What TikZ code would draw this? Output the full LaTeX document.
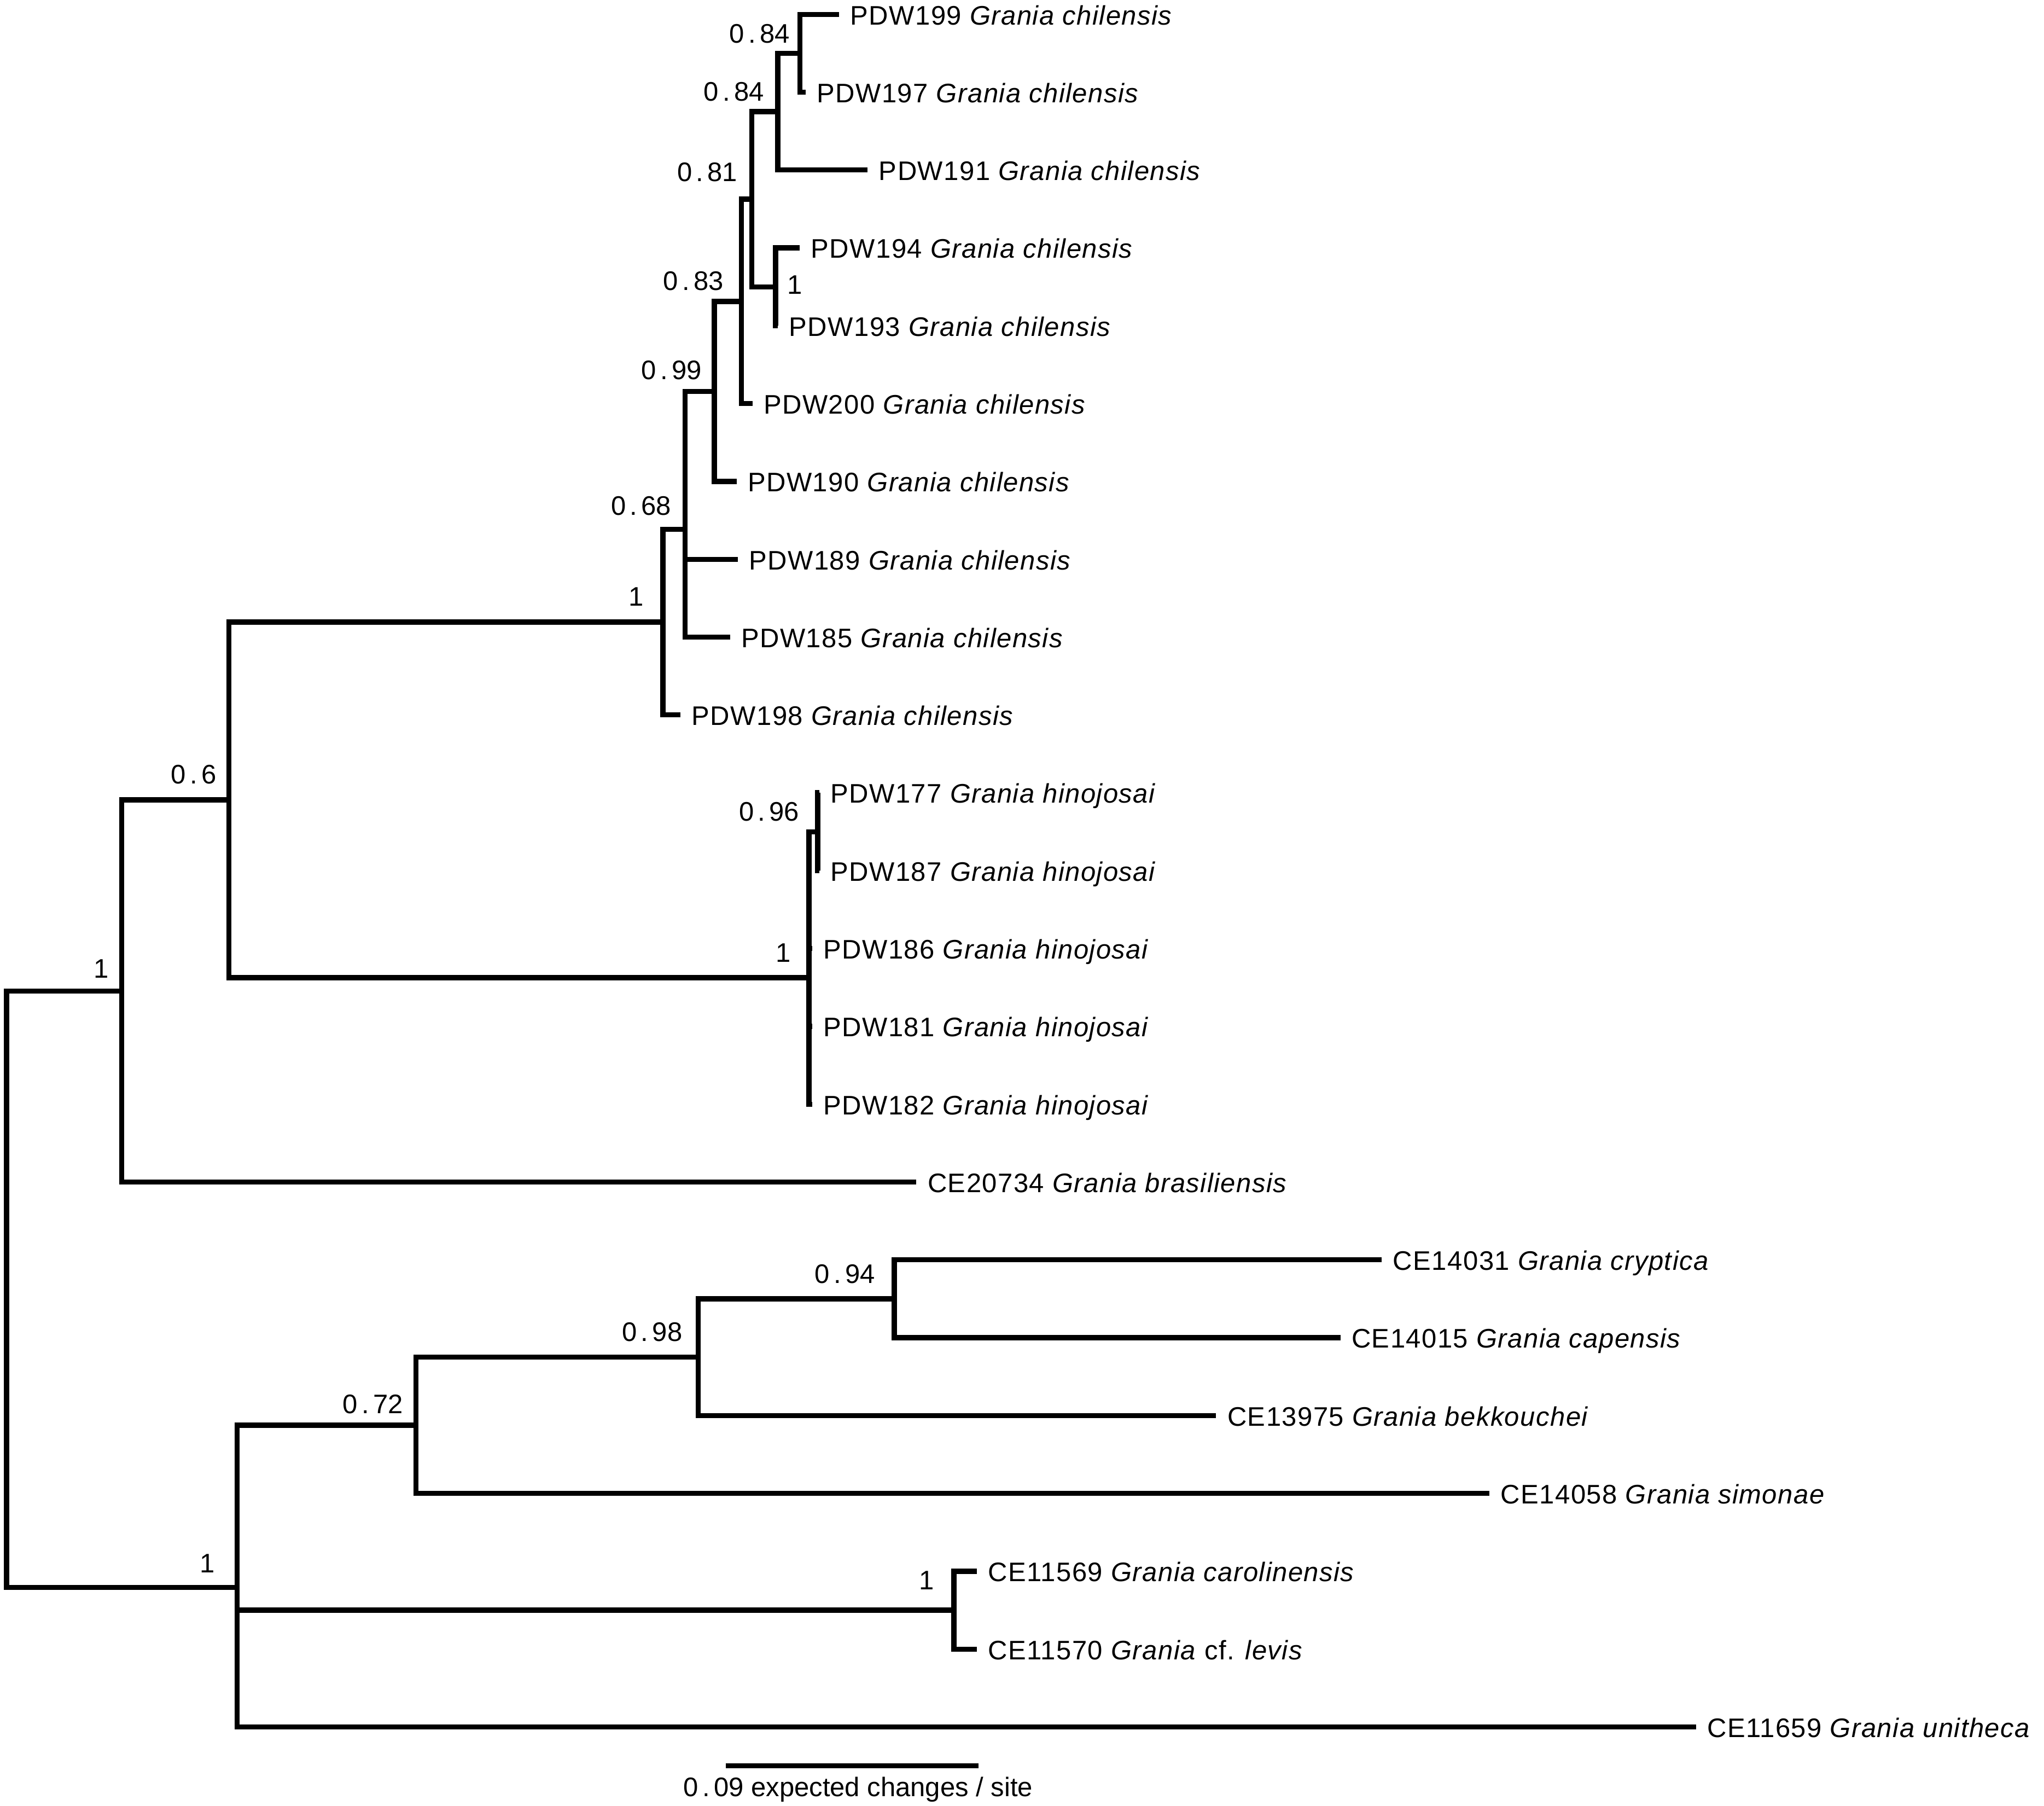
\documentclass[tikz,border=0pt]{standalone}
\usepackage{fontspec}
\setmainfont{Liberation Sans}
\newfontfamily\tipfont{Liberation Sans}[LetterSpace=3]
\newcommand{\wdot}{\kern0.15em.\kern0.15em}
\begin{document}
\begin{tikzpicture}[x=0.02cm,y=-0.02cm,
  branch/.style={line width=0.078cm, line join=miter, line cap=butt},
  tiplab/.style={anchor=base west, inner sep=0pt, xshift=0.166cm, yshift=-0.158cm,
    font=\tipfont\fontsize{11.7pt}{14pt}\selectfont},
  suplab/.style={anchor=base, inner sep=0pt, font=\fontsize{11.7pt}{14pt}\selectfont},
  barlab/.style={anchor=base, inner sep=0pt, font=\fontsize{11.7pt}{14pt}\selectfont}]
\useasboundingbox (0,0) rectangle (1568,1385);
\fill[white] (0,0) rectangle (1568,1385);
% internal nodes
\coordinate (root) at (5,988.7);
\coordinate (A) at (93.3,759.97);
\coordinate (B) at (175.5,613.44);
\coordinate (C) at (508.5,477.1);
\coordinate (D) at (525.5,405.89);
\coordinate (E) at (548,300.17);
\coordinate (F) at (568.6,231.15);
\coordinate (G) at (576.7,152.79);
\coordinate (H) at (596.7,85.63);
\coordinate (J) at (613.5,40.85);
\coordinate (I) at (595,219.95);
\coordinate (K) at (620.6,749.79);
\coordinate (L) at (627.3,637.85);
\coordinate (R) at (182,1217.44);
\coordinate (Q) at (319,1093.06);
\coordinate (M) at (535.6,1040.83);
\coordinate (N) at (686,996.05);
\coordinate (P) at (731.8,1234.85);
% tips
\coordinate (t199) at (643.7,11);
\coordinate (t197) at (618,70.7);
\coordinate (t191) at (665.6,130.4);
\coordinate (t194) at (613.5,190.1);
\coordinate (t193) at (596.7,249.8);
\coordinate (t200) at (577.2,309.5);
\coordinate (t190) at (565,369.2);
\coordinate (t189) at (566,428.9);
\coordinate (t185) at (560,488.6);
\coordinate (t198) at (522,548.3);
\coordinate (t177) at (628.5,608);
\coordinate (t187) at (628.5,667.7);
\coordinate (t186) at (623,727.4);
\coordinate (t181) at (623,787.1);
\coordinate (t182) at (623,846.8);
\coordinate (t734) at (703,906.5);
\coordinate (t031) at (1060,966.2);
\coordinate (t015) at (1028.2,1025.9);
\coordinate (t975) at (932.9,1085.6);
\coordinate (t058) at (1142.6,1145.3);
\coordinate (t569) at (749.4,1205);
\coordinate (t570) at (749.4,1264.7);
\coordinate (t659) at (1301,1324.4);
% branches
\draw[branch] (root) |- (A);
\draw[branch] (root) |- (R);
\draw[branch] (A) |- (B);
\draw[branch] (A) |- (t734);
\draw[branch] (B) |- (C);
\draw[branch] (B) |- (K);
\draw[branch] (C) |- (D);
\draw[branch] (C) |- (t198);
\draw[branch] (D) |- (E);
\draw[branch] (D) |- (t189);
\draw[branch] (D) |- (t185);
\draw[branch] (E) |- (F);
\draw[branch] (E) |- (t190);
\draw[branch] (F) |- (G);
\draw[branch] (F) |- (t200);
\draw[branch] (G) |- (H);
\draw[branch] (G) |- (I);
\draw[branch] (H) |- (J);
\draw[branch] (H) |- (t191);
\draw[branch] (J) |- (t199);
\draw[branch] (J) |- (t197);
\draw[branch] (I) |- (t194);
\draw[branch] (I) |- (t193);
\draw[branch] (K) |- (L);
\draw[branch] (K) |- (t186);
\draw[branch] (K) |- (t181);
\draw[branch] (K) |- (t182);
\draw[branch] (L) |- (t177);
\draw[branch] (L) |- (t187);
\draw[branch] (R) |- (Q);
\draw[branch] (R) |- (P);
\draw[branch] (R) |- (t659);
\draw[branch] (Q) |- (M);
\draw[branch] (Q) |- (t058);
\draw[branch] (M) |- (N);
\draw[branch] (M) |- (t975);
\draw[branch] (N) |- (t031);
\draw[branch] (N) |- (t015);
\draw[branch] (P) |- (t569);
\draw[branch] (P) |- (t570);
% tip labels
\node[tiplab] (n199) at (t199) {PDW199 \textit{Grania chilensis}};
\node[tiplab] (n197) at (t197) {PDW197 \textit{Grania chilensis}};
\node[tiplab] (n191) at (t191) {PDW191 \textit{Grania chilensis}};
\node[tiplab] (n194) at (t194) {PDW194 \textit{Grania chilensis}};
\node[tiplab] (n193) at (t193) {PDW193 \textit{Grania chilensis}};
\node[tiplab] (n200) at (t200) {PDW200 \textit{Grania chilensis}};
\node[tiplab] (n190) at (t190) {PDW190 \textit{Grania chilensis}};
\node[tiplab] (n189) at (t189) {PDW189 \textit{Grania chilensis}};
\node[tiplab] (n185) at (t185) {PDW185 \textit{Grania chilensis}};
\node[tiplab] (n198) at (t198) {PDW198 \textit{Grania chilensis}};
\node[tiplab] (n177) at (t177) {PDW177 \textit{Grania hinojosai}};
\node[tiplab] (n187) at (t187) {PDW187 \textit{Grania hinojosai}};
\node[tiplab] (n186) at (t186) {PDW186 \textit{Grania hinojosai}};
\node[tiplab] (n181) at (t181) {PDW181 \textit{Grania hinojosai}};
\node[tiplab] (n182) at (t182) {PDW182 \textit{Grania hinojosai}};
\node[tiplab] (n734) at (t734) {CE20734 \textit{Grania brasiliensis}};
\node[tiplab] (n031) at (t031) {CE14031 \textit{Grania cryptica}};
\node[tiplab] (n015) at (t015) {CE14015 \textit{Grania capensis}};
\node[tiplab] (n975) at (t975) {CE13975 \textit{Grania bekkouchei}};
\node[tiplab] (n058) at (t058) {CE14058 \textit{Grania simonae}};
\node[tiplab] (n569) at (t569) {CE11569 \textit{Grania carolinensis}};
\node[tiplab] (n570) at (t570) {CE11570 \textit{Grania} cf. \textit{levis}};
\node[tiplab] (n659) at (t659) {CE11659 \textit{Grania unitheca}};
% support values
\node[suplab] (sJ) at (582.8,32.8) {0\wdot84};
\node[suplab] (sH) at (563,77.4) {0\wdot84};
\node[suplab] (sG) at (542.6,139.1) {0\wdot81};
\node[suplab] (sI) at (609.8,225.5) {1};
\node[suplab] (sF) at (532,222.6) {0\wdot83};
\node[suplab] (sE) at (515.2,291.1) {0\wdot99};
\node[suplab] (sD) at (491.8,394.9) {0\wdot68};
\node[suplab] (sC) at (488,464.6) {1};
\node[suplab] (sL) at (590,629.5) {0\wdot96};
\node[suplab] (sK) at (600.7,738) {1};
\node[suplab] (sB) at (148.7,601) {0\wdot6};
\node[suplab] (sA) at (77.7,750) {1};
\node[suplab] (sN) at (648.2,984.3) {0\wdot94};
\node[suplab] (sM) at (500.3,1028.5) {0\wdot98};
\node[suplab] (sQ) at (286,1084) {0\wdot72};
\node[suplab] (sR) at (159,1206) {1};
\node[suplab] (sP) at (710.7,1219) {1};
% scale bar
\coordinate (s1) at (556.8,1354.3);
\coordinate (s2) at (750.8,1354.3);
\draw[branch] (s1) -- (s2);
\node[barlab] (stxt) at (658.3,1377.6) {0\wdot09 expected changes / site};
\end{tikzpicture}
\end{document}
